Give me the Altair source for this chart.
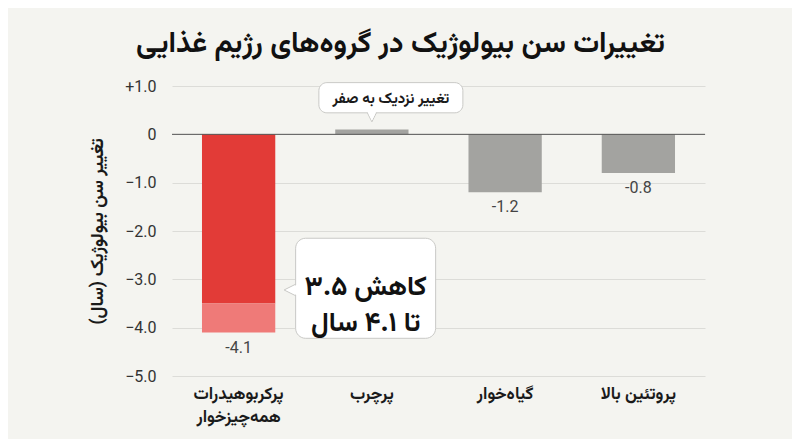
import altair as alt
import pandas as pd

# ---------------- data ----------------
categories = ["پرکربوهیدرات\nهمه‌چیزخوار", "پرچرب", "گیاه‌خوار", "پروتئین بالا"]
values = [-4.1, 0.1, -1.2, -0.8]
range_upper = [-3.5, None, None, None]   # start of the uncertainty range (omnivore only)
value_labels = ["-4.1", "", "-1.2", "-0.8"]
y_ticks = [1.0, 0.0, -1.0, -2.0, -3.0, -4.0, -5.0]

title_text = "تغییرات سن بیولوژیک در گروه‌های رژیم غذایی"
y_title = "تغییر سن بیولوژیک (سال)\u200f"
callout_small = "تغییر نزدیک به صفر"
callout_big = ["کاهش ۳.۵", "تا ۴.۱ سال"]

FA = "Vazirmatn, 'Noto Sans Arabic', 'DejaVu Sans', sans-serif"
NUM = "Roboto, 'DejaVu Sans', sans-serif"
BG = "#f4f4f0"
BORDER = "#c9c9c6"

# segments table
seg_rows = []
for c, v, r in zip(categories, values, range_upper):
    if r is not None:
        seg_rows.append({"cat": c, "start": 0.0, "end": r, "kind": "main"})
        seg_rows.append({"cat": c, "start": r, "end": v, "kind": "range"})
    else:
        seg_rows.append({"cat": c, "start": 0.0, "end": v, "kind": "neutral"})
segs = pd.DataFrame(seg_rows)

labels_df = pd.DataFrame({"cat": categories, "value": values, "label": value_labels})
labels_df = labels_df[labels_df["label"] != ""]

x_scale = alt.Scale(domain=categories, paddingInner=0.45, paddingOuter=0.225)
y_scale = alt.Scale(domain=[-5, 1], nice=False)

x_enc = alt.X(
    "cat:N",
    scale=x_scale,
    sort=categories,
    axis=alt.Axis(
        title=None,
        labelAngle=0,
        labelFont=FA,
        labelFontSize=17,
        labelFontWeight="bold",
        labelColor="#1a1a1a",
        labelPadding=9,
        labelLineHeight=23,
        labelBaseline="top",
        labelExpr="split(datum.label, '\\n')",
        ticks=False,
        domain=False,
        grid=False,
    ),
)

y_axis = alt.Axis(
    values=y_ticks,
    labelExpr="datum.value > 0 ? '+' + format(datum.value, '.1f') : (datum.value == 0 ? '0' : format(datum.value, '.1f'))",
    labelFont=NUM,
    labelFontSize=16,
    labelColor="#333333",
    labelPadding=16,
    ticks=False,
    domain=False,
    grid=True,
    gridColor="#dcdcd8",
    gridWidth=1,
    title=y_title,
    titleFont=FA,
    titleFontSize=18,
    titleFontWeight="bold",
    titleColor="#1a1a1a",
    titlePadding=18,
)

bars = alt.Chart(segs).mark_bar().encode(
    x=x_enc,
    y=alt.Y("start:Q", scale=y_scale, axis=y_axis),
    y2="end:Q",
    color=alt.Color(
        "kind:N",
        scale=alt.Scale(domain=["main", "range", "neutral"], range=["#e23b37", "#ef7a78", "#a3a3a0"]),
        legend=None,
    ),
)

zero_rule = alt.Chart(pd.DataFrame({"y": [0.0]})).mark_rule(color="#555555", strokeWidth=1).encode(
    y=alt.Y("y:Q", scale=y_scale)
)

value_text = alt.Chart(labels_df).mark_text(
    font=NUM, fontSize=16, color="#444444", baseline="top", dy=7
).encode(
    x=alt.X("cat:N", scale=x_scale, sort=categories),
    y=alt.Y("value:Q", scale=y_scale),
    text="label:N",
)

# ---------- callout 1 (near zero, above high-fat bar) ----------
c1 = pd.DataFrame({"cat": [categories[1]], "top": [1.07], "bottom": [0.445], "mid": [0.76], "tip": [0.445]})

c1_ptr = alt.Chart(c1).mark_point(
    shape="M-1,-1L1,-1L0,1Z", size=196, filled=True, fill="white", stroke=BORDER, strokeWidth=1, opacity=1, yOffset=2
).encode(x=alt.X("cat:N", scale=x_scale, sort=categories), y=alt.Y("tip:Q", scale=y_scale))

c1_box = alt.Chart(c1).mark_bar(
    width=144, xOffset=19, cornerRadius=8, fill="white", stroke=BORDER, strokeWidth=1
).encode(x=alt.X("cat:N", scale=x_scale, sort=categories), y=alt.Y("top:Q", scale=y_scale), y2="bottom:Q")

c1_cover = alt.Chart(c1).mark_point(
    shape="M-1,-1L1,-1L0,1Z", size=150, filled=True, fill="white", strokeWidth=0, opacity=1, yOffset=1.5
).encode(x=alt.X("cat:N", scale=x_scale, sort=categories), y=alt.Y("tip:Q", scale=y_scale))

c1_text = alt.Chart(c1).mark_text(
    text=callout_small, font=FA, fontSize=15, fontWeight="bold", color="#1a1a1a", xOffset=19, baseline="middle"
).encode(x=alt.X("cat:N", scale=x_scale, sort=categories), y=alt.Y("mid:Q", scale=y_scale))

# ---------- callout 2 (omnivore range) ----------
c2 = pd.DataFrame({"cat": [categories[0]], "top": [-2.15], "bottom": [-4.22], "mid": [-3.15], "tip": [-3.22]})

c2_ptr = alt.Chart(c2).mark_point(
    shape="M1,-1L1,1L-1,0Z", size=529, filled=True, fill="white", stroke=BORDER, strokeWidth=1, opacity=1, xOffset=57
).encode(x=alt.X("cat:N", scale=x_scale, sort=categories), y=alt.Y("tip:Q", scale=y_scale))

c2_box = alt.Chart(c2).mark_bar(
    width=140, xOffset=127, cornerRadius=10, fill="white", stroke=BORDER, strokeWidth=1
).encode(x=alt.X("cat:N", scale=x_scale, sort=categories), y=alt.Y("top:Q", scale=y_scale), y2="bottom:Q")

c2_cover = alt.Chart(c2).mark_point(
    shape="M1,-1L1,1L-1,0Z", size=420, filled=True, fill="white", strokeWidth=0, opacity=1, xOffset=58
).encode(x=alt.X("cat:N", scale=x_scale, sort=categories), y=alt.Y("tip:Q", scale=y_scale))

c2_text = alt.Chart(c2).mark_text(
    text=callout_big, font=FA, fontSize=27, fontWeight="bold", color="#111111",
    xOffset=127, baseline="middle", lineHeight=36
).encode(x=alt.X("cat:N", scale=x_scale, sort=categories), y=alt.Y("mid:Q", scale=y_scale))

chart = alt.layer(
    bars, zero_rule, value_text,
    c1_ptr, c1_box, c1_cover, c1_text,
    c2_ptr, c2_box, c2_cover, c2_text,
).properties(
    width=533,
    height=290,
    autosize="none",
    padding={"left": 164, "top": 78, "right": 87, "bottom": 63},
    background=BG,
    title=alt.TitleParams(
        text=title_text,
        font=FA,
        fontSize=29,
        fontWeight="bold",
        color="#111111",
        anchor="middle",
        dx=-38,
        offset=20,
    ),
).configure_view(stroke=None)

chart.save("out.html", embed_options={"renderer": "svg", "actions": False})
